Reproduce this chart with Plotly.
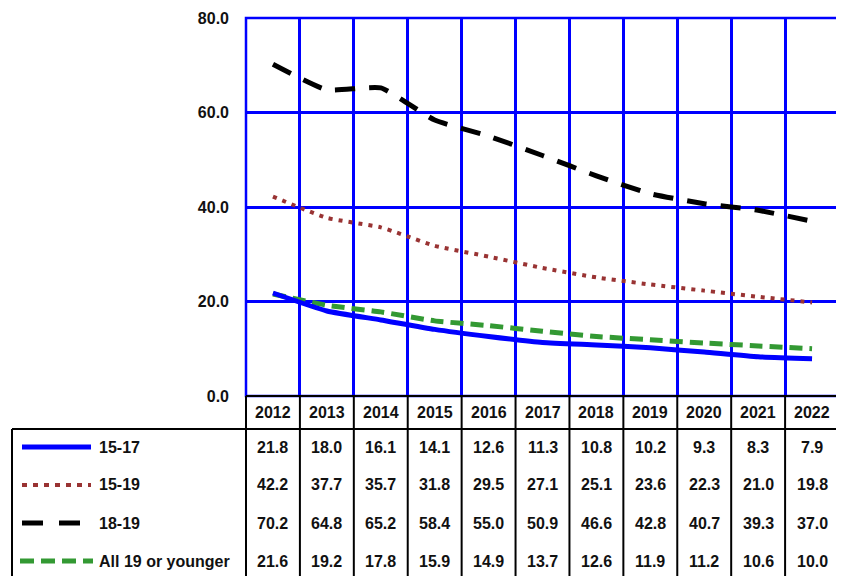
import plotly.graph_objects as go

years = ["2012", "2013", "2014", "2015", "2016", "2017", "2018", "2019", "2020", "2021", "2022"]
s_15_17 = [21.8, 18.0, 16.1, 14.1, 12.6, 11.3, 10.8, 10.2, 9.3, 8.3, 7.9]
s_15_19 = [42.2, 37.7, 35.7, 31.8, 29.5, 27.1, 25.1, 23.6, 22.3, 21.0, 19.8]
s_18_19 = [70.2, 64.8, 65.2, 58.4, 55.0, 50.9, 46.6, 42.8, 40.7, 39.3, 37.0]
s_all = [21.6, 19.2, 17.8, 15.9, 14.9, 13.7, 12.6, 11.9, 11.2, 10.6, 10.0]
series_names = ["15-17", "15-19", "18-19", "All 19 or younger"]
y_ticks = [0, 20, 40, 60, 80]

OFF = 8  # page body margin
W, H = 844 - OFF, 576 - OFF
L = 246 - OFF
T = 18 - OFF
R = W - (839 - OFF)
B = H - (396 - OFF)
pw = W - L - R
ph = H - T - B

FONT = "Liberation Sans, Arial"
TXT = dict(family=FONT, size=16, color="#111111", weight="bold")

styles = [
    dict(color="#0000FF", width=5, dash="solid"),
    dict(color="#993333", width=4, dash="4px,6px"),
    dict(color="#000000", width=5, dash="20px,14px"),
    dict(color="#339933", width=5, dash="13px,7px"),
]
legend_styles = [
    dict(color="#0000FF", width=5, dash="solid"),
    dict(color="#993333", width=4, dash="5px,6px"),
    dict(color="#000000", width=5, dash="21px,16px"),
    dict(color="#339933", width=5, dash="14px,7px"),
]
legend_x = [(22, 91), (22, 91), (22, 80), (20, 93)]
all_series = [s_15_17, s_15_19, s_18_19, s_all]

fig = go.Figure()
for idx in [3, 1, 2, 0]:
    fig.add_trace(go.Scatter(
        x=years, y=all_series[idx], mode="lines", name=series_names[idx],
        line=dict(shape="spline", smoothing=0.45, **styles[idx]),
        showlegend=False, hoverinfo="skip"))

def px_x(p):
    return (p - OFF - L) / pw

def px_y(p):
    return 1 - (p - OFF - T) / ph

shapes = []
blk = dict(color="#000000", width=2)
shapes.append(dict(type="rect", xref="paper", yref="paper", x0=0, x1=1, y0=0, y1=1,
                   line=dict(color="#0000FF", width=2.5), layer="above"))
hdr_top = px_y(396)
hdr_bot = px_y(429)
bottom = px_y(590)
shapes.append(dict(type="line", xref="paper", yref="paper", x0=0, x1=1, y0=hdr_top, y1=hdr_top, line=blk))
shapes.append(dict(type="line", xref="paper", yref="paper", x0=px_x(12), x1=1, y0=hdr_bot, y1=hdr_bot, line=blk))
shapes.append(dict(type="line", xref="paper", yref="paper", x0=px_x(12), x1=px_x(12), y0=hdr_bot, y1=bottom, line=blk))
n = len(years)
for i in range(n + 1):
    xx = i / n
    shapes.append(dict(type="line", xref="paper", yref="paper", x0=xx, x1=xx, y0=hdr_top, y1=bottom, line=blk))

row_y = [447, 485, 523, 561]
annotations = []
for i, yr in enumerate(years):
    annotations.append(dict(x=i, xref="x", y=px_y(412.5), yref="paper", text=yr, showarrow=False,
                            font=TXT, xanchor="center", yanchor="middle"))
for r, (name, vals, st) in enumerate(zip(series_names, all_series, legend_styles)):
    yy = px_y(row_y[r])
    for i, v in enumerate(vals):
        annotations.append(dict(x=i, xref="x", y=yy, yref="paper", text=f"{v:.1f}", showarrow=False,
                                font=TXT, xanchor="center", yanchor="middle"))
    annotations.append(dict(x=px_x(97), xref="paper", y=yy, yref="paper", text=name, showarrow=False,
                            font=TXT, xanchor="left", yanchor="middle"))
    x0, x1 = legend_x[r]
    shapes.append(dict(type="line", xref="paper", yref="paper", x0=px_x(x0), x1=px_x(x1), y0=yy, y1=yy,
                       line=dict(color=st["color"], width=st["width"], dash=st["dash"])))

fig.update_layout(
    width=W, height=H,
    margin=dict(l=L, r=R, t=T, b=B, autoexpand=False),
    plot_bgcolor="white", paper_bgcolor="white",
    showlegend=False,
    shapes=shapes, annotations=annotations,
    xaxis=dict(type="category", showgrid=True, gridcolor="#0000FF", gridwidth=2.5,
               tickson="boundaries", showticklabels=False, ticks="", zeroline=False,
               showline=False, range=[-0.5, n - 0.5], automargin=False),
    yaxis=dict(range=[0, 80], tickvals=y_ticks, ticktext=[f"{v:.1f}" for v in y_ticks],
               showgrid=True, gridcolor="#0000FF", gridwidth=2.5, zeroline=False,
               ticks="", ticklabelstandoff=16, automargin=False,
               tickfont=TXT),
)

fig.write_html("out.html")
